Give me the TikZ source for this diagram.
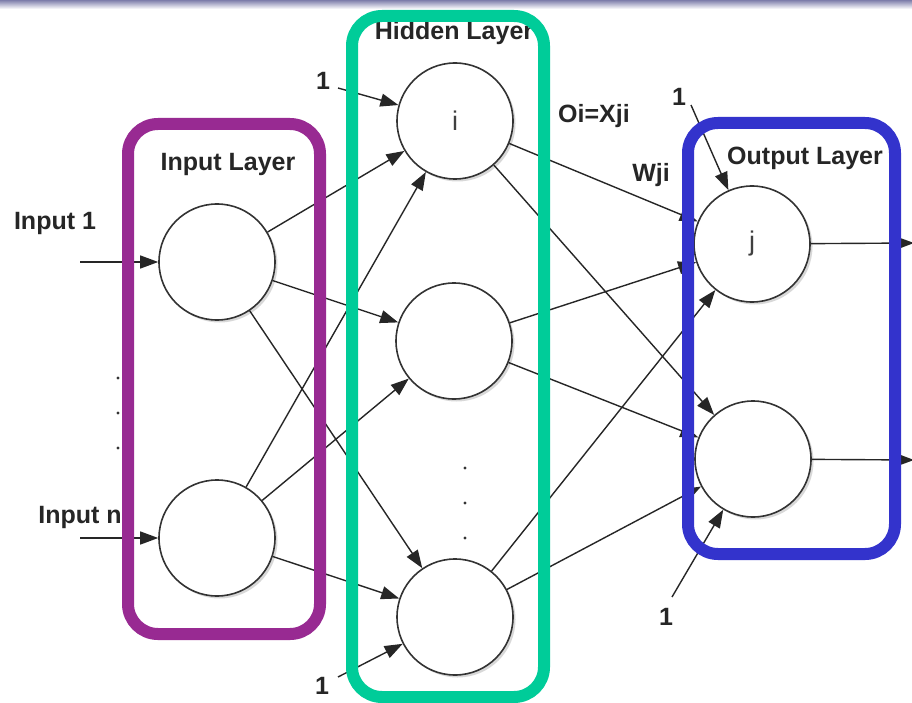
\documentclass[tikz,border=0pt]{standalone}
\usepackage{fontspec}
\setmainfont{Liberation Sans}
\usetikzlibrary{arrows.meta,shadows}
\definecolor{boxpurple}{RGB}{152,42,146}
\definecolor{boxgreen}{RGB}{0,204,153}
\definecolor{boxblue}{RGB}{51,51,204}
\definecolor{barcol}{RGB}{125,125,170}
\begin{document}
\begin{tikzpicture}[x=1pt,y=-1pt,
  neuron/.style={circle, draw=black!80, line width=1.6pt, fill=white,
    minimum size=116pt, inner sep=0pt,
    font=\fontsize{27}{29}\selectfont, text=black!75,
    drop shadow={shadow xshift=2.5pt, shadow yshift=-2.5pt, opacity=0.3}},
  conn/.style={draw=black!85, line width=1.4pt, -{Triangle[length=18pt,width=13pt]}},
  lbl/.style={font=\fontsize{25}{28}\selectfont\bfseries, text=black!85, inner sep=0pt},
  layerbox/.style={line width=12pt, rounded corners=30pt},
  dot/.style={fill=black!80}]
\useasboundingbox (0,0) rectangle (912,703);
\fill[white] (0,0) rectangle (912,703);
\shade[top color=barcol, bottom color=white] (0,0) rectangle (912,9);

% neurons
\node[neuron] (in1) at (217,262) {};
\node[neuron] (inn) at (217,538) {};
\node[neuron] (h1) at (455,121) {i};
\node[neuron] (h2) at (454,341) {};
\node[neuron] (h3) at (455,617) {};
\node[neuron] (o1) at (752,244) {j};
\node[neuron] (o2) at (753,459) {};

% free ends
\coordinate (x1) at (80,262);
\coordinate (xn) at (80,538);
\coordinate (y1) at (914,243);
\coordinate (y2) at (914,460);
\coordinate (b1) at (338,88);
\coordinate (b2) at (338,677);
\coordinate (b3) at (691,105);
\coordinate (b4) at (672,597);

% connectors
\draw[conn] (x1) -- (in1);
\draw[conn] (xn) -- (inn);
\foreach \s in {in1,inn}{
  \foreach \t in {h1,h2,h3}{
    \draw[conn] (\s) -- (\t);
  }
}
\foreach \s in {h1,h2,h3}{
  \foreach \t in {o1,o2}{
    \draw[conn] (\s) -- (\t);
  }
}
\draw[conn] (o1) -- (y1);
\draw[conn] (o2) -- (y2);
\draw[conn] (b1) -- (h1);
\draw[conn] (b2) -- (h3);
\draw[conn] (b3) -- (o1);
\draw[conn] (b4) -- (o2);

% labels
\node[lbl] (l1) at (55,223) {Input 1};
\node[lbl] (ln) at (80,517) {Input n};
\node[lbl] (lin) at (228,164) {Input Layer};
\node[lbl] (lh) at (454,33) {Hidden Layer};
\node[lbl] (lo) at (805,158) {Output Layer};
\node[lbl] (oi) at (594,116) {Oi=Xji};
\node[lbl] (w) at (651,175) {Wji};
\node[lbl] (one1) at (323,81) {1};
\node[lbl] (one2) at (322,686) {1};
\node[lbl] (one3) at (679,97) {1};
\node[lbl] (one4) at (666,617) {1};

% dots
\foreach \y in {378,413,448}{\fill[dot] (118,\y) circle (1.6pt);}
\foreach \y in {468,503,538}{\fill[dot] (465,\y) circle (1.6pt);}

% layer boxes
\draw[layerbox, boxpurple] (128,124) rectangle (320,634);
\draw[layerbox, boxgreen] (352,16) rectangle (544,697);
\draw[layerbox, boxblue] (688,123) rectangle (895,554);
\end{tikzpicture}
\end{document}
